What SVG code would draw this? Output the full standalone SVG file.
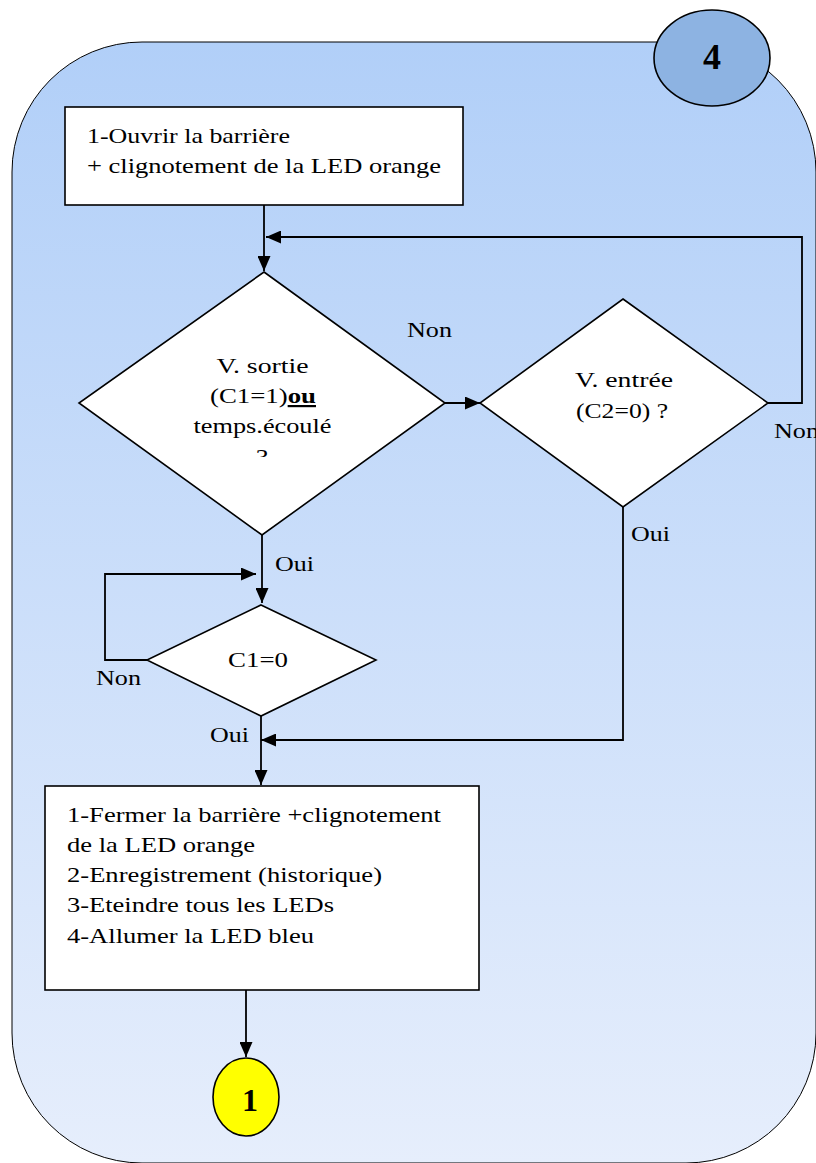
<svg xmlns="http://www.w3.org/2000/svg" width="816" height="1163" viewBox="0 0 816 1163">
<defs>
<linearGradient id="bg" x1="0" y1="0" x2="0" y2="1">
<stop offset="0" stop-color="#b1cff8"/>
<stop offset="1" stop-color="#e6eefc"/>
</linearGradient>
<marker id="ahb" viewBox="0 0 15 13" refX="15" refY="6.5" markerWidth="15" markerHeight="13" markerUnits="userSpaceOnUse" orient="auto">
<path d="M0,0 L15,6.5 L0,13 z" fill="#000"/>
</marker>
<clipPath id="qclip" clipPathUnits="userSpaceOnUse"><rect x="150" y="430" width="230" height="27"/></clipPath>
</defs>
<style>
.t{font-family:"Liberation Serif","Times New Roman",serif;font-size:22px;fill:#000}
.m{text-anchor:middle}
.shape{fill:#fff;stroke:#000;stroke-width:1.6}
.ln{fill:none;stroke:#000;stroke-width:1.8}
</style>
<rect x="12" y="42" width="804" height="1121" rx="130" ry="130" fill="url(#bg)" stroke="#000" stroke-width="1"/>
<g id="n4">
<ellipse cx="712" cy="58" rx="58" ry="48" fill="#8db3e2" stroke="#000" stroke-width="1.6"/>
<text class="t m" x="712" y="69" style="font-weight:bold;font-size:36px">4</text>
</g>
<g id="connectors">
<path class="ln" d="M264,205 V271" marker-end="url(#ahb)"/>
<path class="ln" d="M768,403 H802 V237 H266" marker-end="url(#ahb)"/>
<path class="ln" d="M445,403 H480" marker-end="url(#ahb)"/>
<path class="ln" d="M262,535 V603" marker-end="url(#ahb)"/>
<path class="ln" d="M147,660 H105 V574 H256" marker-end="url(#ahb)"/>
<path class="ln" d="M261,716 V785" marker-end="url(#ahb)"/>
<path class="ln" d="M623,507 V740 H261" marker-end="url(#ahb)"/>
<path class="ln" d="M246,990 V1057" marker-end="url(#ahb)"/>
<text class="t" x="407" y="337" textLength="45" lengthAdjust="spacingAndGlyphs">Non</text>
<text class="t" x="774" y="438" textLength="45" lengthAdjust="spacingAndGlyphs">Non</text>
<text class="t" x="631" y="541" textLength="39" lengthAdjust="spacingAndGlyphs">Oui</text>
<text class="t" x="275" y="571" textLength="39" lengthAdjust="spacingAndGlyphs">Oui</text>
<text class="t" x="96" y="685" textLength="45" lengthAdjust="spacingAndGlyphs">Non</text>
<text class="t" x="210" y="742" textLength="39" lengthAdjust="spacingAndGlyphs">Oui</text>
</g>
<g id="box1">
<rect class="shape" x="65" y="107" width="398" height="98"/>
<text class="t" x="87" y="143" textLength="203" lengthAdjust="spacingAndGlyphs">1-Ouvrir la barrière</text>
<text class="t" x="87" y="173" textLength="354" lengthAdjust="spacingAndGlyphs">+ clignotement de la LED orange</text>
</g>
<g id="d1">
<polygon class="shape" points="264,272 445,403 262,535 79,403"/>
<text class="t m" x="262.5" y="373" textLength="92" lengthAdjust="spacingAndGlyphs">V. sortie</text>
<text class="t m" x="263" y="403" textLength="106" lengthAdjust="spacingAndGlyphs">(C1=1)<tspan font-weight="bold" text-decoration="underline">ou</tspan></text>
<text class="t m" x="262.5" y="433" textLength="138" lengthAdjust="spacingAndGlyphs">temps.écoulé</text>
<g clip-path="url(#qclip)">
<text class="t m" x="262" y="464" textLength="12" lengthAdjust="spacingAndGlyphs">?</text>
</g>
</g>
<g id="d2">
<polygon class="shape" points="623,299 768,403 623,507 480,403"/>
<text class="t m" x="624" y="387" textLength="98" lengthAdjust="spacingAndGlyphs">V. entrée</text>
<text class="t m" x="622" y="418" textLength="92" lengthAdjust="spacingAndGlyphs">(C2=0) ?</text>
</g>
<g id="d3">
<polygon class="shape" points="261,605 376,660 261,716 147,660"/>
<text class="t m" x="258" y="667" textLength="60" lengthAdjust="spacingAndGlyphs">C1=0</text>
</g>
<g id="box2">
<rect class="shape" x="45" y="786" width="434" height="204"/>
<text class="t" x="67" y="822" textLength="374" lengthAdjust="spacingAndGlyphs">1-Fermer la barrière +clignotement</text>
<text class="t" x="67" y="852" textLength="188" lengthAdjust="spacingAndGlyphs">de la LED orange</text>
<text class="t" x="67" y="882" textLength="315" lengthAdjust="spacingAndGlyphs">2-Enregistrement (historique)</text>
<text class="t" x="67" y="912" textLength="267" lengthAdjust="spacingAndGlyphs">3-Eteindre tous les LEDs</text>
<text class="t" x="67" y="943" textLength="247" lengthAdjust="spacingAndGlyphs">4-Allumer la LED bleu</text>
</g>
<g id="n1">
<ellipse cx="246" cy="1097" rx="33" ry="39" fill="#ffff00" stroke="#000" stroke-width="1.6"/>
<text class="t m" x="250" y="1111" style="font-weight:bold;font-size:32px">1</text>
</g>
</svg>
